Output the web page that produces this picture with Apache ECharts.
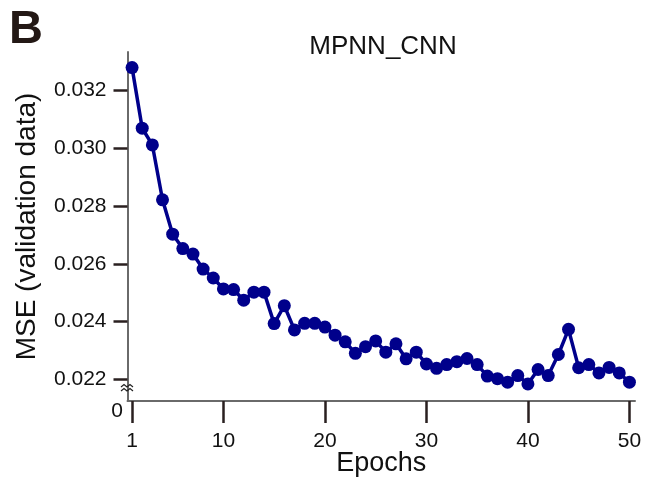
<!DOCTYPE html>
<html>
<head>
<meta charset="utf-8">
<script src="https://cdn.jsdelivr.net/npm/echarts@6/dist/echarts.min.js"></script>
<style>
  html, body { margin: 0; padding: 0; background: #fff; }
  #chart { width: 646px; height: 479px; }
</style>
</head>
<body>
<div id="chart"></div>
<script>
// Validation MSE per training epoch for the MPNN_CNN model
const epochs = [1,2,3,4,5,6,7,8,9,10,11,12,13,14,15,16,17,18,19,20,21,22,23,24,25,
  26,27,28,29,30,31,32,33,34,35,36,37,38,39,40,41,42,43,44,45,46,47,48,49,50];
const mse = [0.03280,0.03070,0.03012,0.02822,0.02703,0.02653,0.02634,0.02582,0.02551,0.02513,
  0.02511,0.02474,0.02502,0.02502,0.02393,0.02455,0.02371,0.02394,0.02394,0.02381,
  0.02353,0.02330,0.02290,0.02313,0.02333,0.02294,0.02323,0.02271,0.02294,0.02253,
  0.02238,0.02251,0.02261,0.02272,0.02251,0.02211,0.02202,0.02190,0.02213,0.02184,
  0.02234,0.02213,0.02286,0.02373,0.02240,0.02251,0.02222,0.02241,0.02222,0.02190];
const xTicks = [1, 10, 20, 30, 40, 50];
const yTicks = [0.022, 0.024, 0.026, 0.028, 0.030, 0.032];

const FONT = '"Liberation Sans", Arial, Helvetica, sans-serif';
const chart = echarts.init(document.getElementById('chart'));

const tickStyle = { color: '#2a2020', width: 2.5 };
const axisLineStyle = { color: '#6a6a6a', width: 2 };

chart.setOption({
  animation: false,
  backgroundColor: '#ffffff',
  title: {
    text: 'MPNN_CNN',
    left: 378, top: 29, textAlign: 'center',
    textStyle: { fontFamily: FONT, fontSize: 26, fontWeight: 'normal', color: '#111' }
  },
  grid: { left: 127.5, right: 11, top: 52, bottom: 78, containLabel: false, outerBoundsMode: 'none' },
  xAxis: {
    type: 'value', min: 0.55, max: 50.55,
    name: 'Epochs', nameLocation: 'middle', nameGap: 49, nameMoveOverlap: false,
    nameTextStyle: { fontFamily: FONT, fontSize: 27, color: '#111' },
    axisLine: { show: true, lineStyle: axisLineStyle },
    axisTick: { show: true, length: 22, inside: false, customValues: xTicks, lineStyle: tickStyle },
    axisLabel: { customValues: xTicks, margin: 30, fontFamily: FONT, fontSize: 21, color: '#111' },
    splitLine: { show: false }
  },
  yAxis: {
    type: 'value', min: 0.021248, max: 0.033341,
    name: 'MSE (validation data)', nameLocation: 'middle', nameGap: 86, nameMoveOverlap: false,
    nameTextStyle: { fontFamily: FONT, fontSize: 28, color: '#111' },
    axisLine: { show: true, lineStyle: axisLineStyle },
    axisTick: { show: true, length: 14, inside: false, customValues: yTicks, lineStyle: tickStyle },
    axisLabel: {
      customValues: yTicks, margin: 21, fontFamily: FONT, fontSize: 21, color: '#111',
      formatter: v => v.toFixed(3)
    },
    splitLine: { show: false }
  },
  graphic: [
    { type: 'text', left: 9, top: 7,
      style: { text: 'B', fontFamily: FONT, fontSize: 47, fontWeight: 'bold', fill: '#231815' } },
    { type: 'text', x: 117, y: 411,
      style: { text: '0', fontFamily: FONT, fontSize: 21, fill: '#111', textAlign: 'center', textVerticalAlign: 'middle' } },
    // axis break marks
    { type: 'polyline', shape: { points: [[121,387],[124,384.5],[127,387],[130,384.5],[133,387]] },
      style: { stroke: '#222', lineWidth: 1.2, fill: null }, z: 10 },
    { type: 'polyline', shape: { points: [[121,391],[124,388.5],[127,391],[130,388.5],[133,391]] },
      style: { stroke: '#222', lineWidth: 1.2, fill: null }, z: 10 }
  ],
  series: [{
    type: 'line',
    data: epochs.map((e, i) => [e, mse[i]]),
    symbol: 'circle', symbolSize: 13,
    lineStyle: { color: '#00008b', width: 3.5 },
    itemStyle: { color: '#00008b' },
    clip: false
  }]
});
</script>
</body>
</html>
